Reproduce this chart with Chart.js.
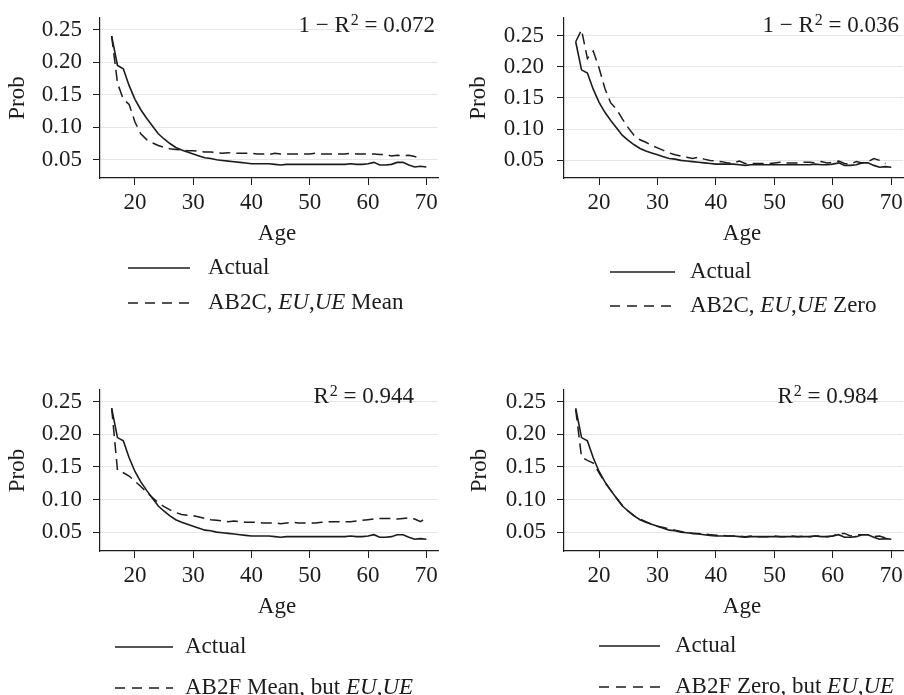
<!DOCTYPE html>
<html>
<head>
<meta charset="utf-8">
<script src="https://cdn.jsdelivr.net/npm/chart.js@4.4.1/dist/chart.umd.min.js"></script>
<style>
  html, body { margin: 0; padding: 0; background: #fff; }
  #wrap { position: relative; width: 904px; height: 695px; overflow: hidden; }
  canvas { position: absolute; }
</style>
</head>
<body>
<div id="wrap">
  <canvas id="p1" width="452" height="340" style="left:0;top:0"></canvas>
  <canvas id="p2" width="452" height="340" style="left:452px;top:0"></canvas>
  <canvas id="p3" width="452" height="355" style="left:0;top:340px"></canvas>
  <canvas id="p4" width="452" height="355" style="left:452px;top:340px"></canvas>
</div>
<script>
// ages and tick values
const ages = [16, 17, 18, 19, 20, 21, 22, 23, 24, 25, 26, 27, 28, 29, 30, 31, 32, 33, 34, 35,
  36, 37, 38, 39, 40, 41, 42, 43, 44, 45, 46, 47, 48, 49, 50, 51, 52, 53, 54, 55,
  56, 57, 58, 59, 60, 61, 62, 63, 64, 65, 66, 67, 68, 69, 70];
const xTicks = [20, 30, 40, 50, 60, 70];
const yTicks = [0.05, 0.10, 0.15, 0.20, 0.25];

// actual probability by age (same in every panel)
const actual = [0.240, 0.195, 0.190, 0.164, 0.143, 0.127, 0.114, 0.102, 0.090, 0.082,
  0.075, 0.069, 0.065, 0.062, 0.059, 0.056, 0.053, 0.052, 0.050, 0.049,
  0.048, 0.047, 0.046, 0.045, 0.044, 0.044, 0.044, 0.044, 0.043, 0.042,
  0.043, 0.043, 0.043, 0.043, 0.043, 0.043, 0.043, 0.043, 0.043, 0.043,
  0.043, 0.044, 0.043, 0.043, 0.044, 0.046, 0.042, 0.042, 0.043, 0.046,
  0.046, 0.042, 0.039, 0.040, 0.039];

// model series
const ab2cMean = [0.240, 0.168, 0.143, 0.135, 0.108, 0.090, 0.081, 0.076, 0.072, 0.069,
  0.067, 0.066, 0.065, 0.064, 0.064, 0.063, 0.062, 0.062, 0.061, 0.060,
  0.061, 0.060, 0.060, 0.060, 0.060, 0.059, 0.059, 0.058, 0.060, 0.059,
  0.059, 0.059, 0.059, 0.059, 0.059, 0.060, 0.059, 0.059, 0.059, 0.059,
  0.059, 0.060, 0.059, 0.059, 0.059, 0.059, 0.058, 0.058, 0.056, 0.057,
  0.056, 0.057, 0.055, 0.052, null];
const ab2cZero = [0.240, 0.259, 0.213, 0.225, 0.198, 0.165, 0.142, 0.132, 0.116, 0.102,
  0.090, 0.083, 0.079, 0.074, 0.070, 0.066, 0.062, 0.059, 0.057, 0.055,
  0.053, 0.055, 0.052, 0.050, 0.049, 0.048, 0.046, 0.046, 0.049, 0.045,
  0.045, 0.045, 0.045, 0.045, 0.046, 0.047, 0.046, 0.046, 0.046, 0.047,
  0.047, 0.046, 0.048, 0.046, 0.047, 0.049, 0.045, 0.044, 0.048, 0.046,
  0.048, 0.053, 0.050, 0.045, null];
const ab2fMean = [0.240, 0.145, 0.141, 0.136, 0.128, 0.120, 0.111, 0.103, 0.095, 0.089,
  0.084, 0.080, 0.077, 0.076, 0.075, 0.073, 0.071, 0.069, 0.068, 0.067,
  0.066, 0.067, 0.066, 0.065, 0.065, 0.065, 0.064, 0.064, 0.064, 0.063,
  0.064, 0.065, 0.064, 0.064, 0.064, 0.064, 0.065, 0.066, 0.066, 0.066,
  0.066, 0.066, 0.067, 0.068, 0.069, 0.070, 0.071, 0.071, 0.071, 0.070,
  0.071, 0.072, 0.070, 0.066, 0.072];
const ab2fZero = [0.238, 0.165, 0.160, 0.156, 0.141, 0.126, 0.114, 0.102, 0.091, 0.082,
  0.075, 0.070, 0.066, 0.062, 0.059, 0.057, 0.055, 0.053, 0.051, 0.049,
  0.048, 0.048, 0.047, 0.046, 0.045, 0.045, 0.044, 0.044, 0.044, 0.043,
  0.044, 0.043, 0.043, 0.043, 0.044, 0.043, 0.043, 0.044, 0.043, 0.044,
  0.043, 0.044, 0.044, 0.043, 0.044, 0.048, 0.048, 0.044, 0.046, 0.046,
  0.046, 0.043, 0.044, 0.041, 0.040];

// labels: [text, italic]
const actualLabel = [['Actual', 0]];
const modelLabels = [
  [['AB2C, ', 0], ['EU', 1], [',', 0], ['UE', 1], [' Mean', 0]],
  [['AB2C, ', 0], ['EU', 1], [',', 0], ['UE', 1], [' Zero', 0]],
  [['AB2F Mean, but ', 0], ['EU', 1], [',', 0], ['UE', 1]],
  [['AB2F Zero, but ', 0], ['EU', 1], [',', 0], ['UE', 1]]
];
const notePrefix = ['1 \u2212 ', '1 \u2212 ', '', ''];
const noteValue = ['0.072', '0.036', '0.944', '0.984'];

const ink = '#1c1c1c';
const serif = '"Liberation Serif", "Times New Roman", serif';
Chart.defaults.font.family = serif;
Chart.defaults.color = ink;

function richText(ctx, segs, x, y, size) {
  segs.forEach(([t, it]) => {
    ctx.font = (it ? 'italic ' : '') + size + 'px ' + serif;
    ctx.fillText(t, x, y);
    x += ctx.measureText(t).width;
  });
}

const panelDecor = {
  id: 'panelDecor',
  afterDraw(chart, args, o) {
    const ctx = chart.ctx;
    ctx.save();
    ctx.fillStyle = ink;
    ctx.strokeStyle = ink;
    // x title
    ctx.font = '23px ' + serif;
    ctx.textAlign = 'center';
    ctx.textBaseline = 'alphabetic';
    ctx.fillText('Age', o.ageX, o.ageY);
    // fit note, right aligned
    ctx.textAlign = 'left';
    ctx.font = '23px ' + serif;
    const a = o.prefix + 'R';
    const b = ' = ' + o.value;
    const wa = ctx.measureText(a).width;
    const wb = ctx.measureText(b).width;
    ctx.font = '16px ' + serif;
    const w2 = ctx.measureText('2').width;
    let x = o.noteRight - (wa + w2 + wb + 1);
    ctx.font = '23px ' + serif;
    ctx.fillText(a, x, o.noteY);
    ctx.font = '16px ' + serif;
    ctx.fillText('2', x + wa + 1, o.noteY - 7);
    ctx.font = '23px ' + serif;
    ctx.fillText(b, x + wa + w2 + 1, o.noteY);
    // legend
    ctx.textBaseline = 'middle';
    ctx.lineWidth = 1.5;
    o.rows.forEach((row, i) => {
      const y = o.legY[i];
      ctx.setLineDash(i === 0 ? [] : [10, 7]);
      ctx.beginPath();
      ctx.moveTo(o.legX0, y);
      ctx.lineTo(o.legX1, y);
      ctx.stroke();
      richText(ctx, row, o.legText, y, 23);
    });
    ctx.restore();
  }
};

const panels = [
  { id: 'p1', model: ab2cMean, yMin: 0.022, yMax: 0.268, pad: { left: 0, top: 18, right: 14, bottom: 91 },
    yWidth: 100, tickPad: 11, titlePad: 4,
    decor: { ageX: 277, ageY: 240, noteRight: 435, noteY: 32, legX0: 128, legX1: 190, legText: 208, legY: [268, 303] } },
  { id: 'p2', model: ab2cZero, yMin: 0.0218, yMax: 0.278, pad: { left: 0, top: 18, right: 1, bottom: 91 },
    yWidth: 112, tickPad: 13, titlePad: 13,
    decor: { ageX: 290, ageY: 240, noteRight: 447, noteY: 32, legX0: 158, legX1: 223, legText: 238, legY: [272, 306] } },
  { id: 'p3', model: ab2fMean, yMin: 0.021, yMax: 0.268, pad: { left: 0, top: 50, right: 14, bottom: 73 },
    yWidth: 100, tickPad: 11, titlePad: 4,
    decor: { ageX: 277, ageY: 273, noteRight: 414, noteY: 63, legX0: 115, legX1: 173, legText: 185, legY: [307, 348] } },
  { id: 'p4', model: ab2fZero, yMin: 0.021, yMax: 0.268, pad: { left: 0, top: 50, right: 1, bottom: 73 },
    yWidth: 112, tickPad: 11, titlePad: 14,
    decor: { ageX: 290, ageY: 273, noteRight: 426, noteY: 63, legX0: 147, legX1: 208, legText: 223, legY: [306, 347] } }
];

panels.forEach((p, i) => {
  const pts = arr => ages.map((a, k) => ({ x: a, y: arr[k] }));
  new Chart(document.getElementById(p.id), {
    type: 'line',
    data: {
      datasets: [
        { label: 'Actual', data: pts(actual), borderColor: ink, borderWidth: 1.6, pointRadius: 0, tension: 0 },
        { label: 'Model', data: pts(p.model), borderColor: ink, borderWidth: 1.5, borderDash: [11, 6], pointRadius: 0, tension: 0 }
      ]
    },
    options: {
      responsive: false,
      devicePixelRatio: 1,
      animation: false,
      events: [],
      layout: { padding: p.pad },
      plugins: {
        legend: { display: false },
        tooltip: { enabled: false },
        panelDecor: Object.assign({ rows: [actualLabel, modelLabels[i]], prefix: notePrefix[i], value: noteValue[i] }, p.decor)
      },
      scales: {
        x: {
          type: 'linear', min: 14, max: 72,
          afterBuildTicks: s => { s.ticks = xTicks.map(v => ({ value: v })); },
          afterFit: s => { s.height = 71; s.paddingLeft = 0; s.paddingRight = 0; },
          ticks: { font: { size: 23 }, padding: 4, maxRotation: 0, autoSkip: false, color: ink },
          grid: { drawOnChartArea: false, tickLength: 7, tickColor: ink, tickWidth: 1 },
          border: { color: ink, width: 1.2 }
        },
        y: {
          min: p.yMin, max: p.yMax,
          afterBuildTicks: s => { s.ticks = yTicks.map(v => ({ value: v })); },
          afterFit: s => { s.width = p.yWidth; s.paddingTop = 0; s.paddingBottom = 0; },
          ticks: { font: { size: 23 }, padding: p.tickPad, color: ink, callback: v => v.toFixed(2) },
          grid: { color: '#e6e6e6', lineWidth: 1, tickLength: 7, tickColor: ink, tickWidth: 1 },
          border: { color: ink, width: 1.2 },
          title: { display: true, text: 'Prob', font: { size: 23 }, color: ink, padding: { top: p.titlePad, bottom: 0 } }
        }
      }
    },
    plugins: [panelDecor]
  });
});
</script>
</body>
</html>
